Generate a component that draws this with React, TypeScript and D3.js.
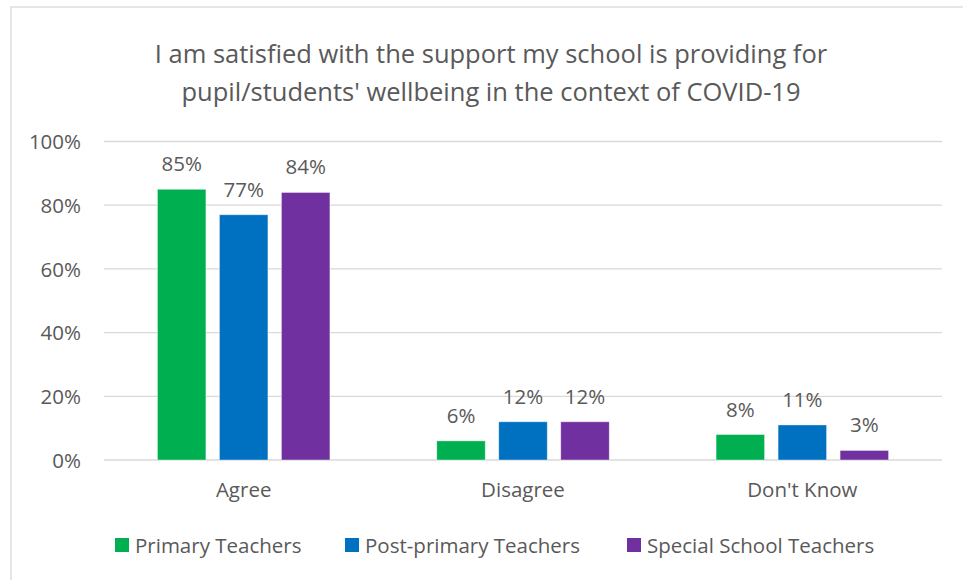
import React from "react";
import * as d3 from "d3";

const categories = ["Agree", "Disagree", "Don't Know"];
const seriesNames = ["Primary Teachers", "Post-primary Teachers", "Special School Teachers"];
const seriesColors = ["#00B050", "#0070C0", "#7030A0"];
const primaryValues = [85, 6, 8];
const postPrimaryValues = [77, 12, 11];
const specialValues = [84, 12, 3];
const yTicks = [0, 20, 40, 60, 80, 100];
const titleLines = [
  "I am satisfied with the support my school is providing for",
  "pupil/students' wellbeing in the context of COVID-19",
];

const W = 963;
const H = 580;
const FONT = "'Open Sans', sans-serif";
const TEXT = "#595959";
const FS = 20.5;

export default function App() {
  const allSeries = [primaryValues, postPrimaryValues, specialValues];
  const plot = { left: 104, right: 942, top: 141.5, bottom: 460 };
  const x0 = d3.scaleBand().domain(categories).range([plot.left, plot.right]).paddingInner(0).paddingOuter(0);
  const band = x0.bandwidth();
  const barW = 48.5;
  const gap = 13.5;
  const groupW = barW * 3 + gap * 2;
  const x1 = d3
    .scaleBand()
    .domain(seriesNames)
    .range([(band - groupW) / 2, (band + groupW) / 2])
    .paddingInner(gap / (barW + gap))
    .paddingOuter(0);
  const y = d3.scaleLinear().domain([0, 100]).range([plot.bottom, plot.top]);

  const legendX = [115, 345, 627];

  return (
    <svg width={W} height={H} style={{ position: "absolute", left: 0, top: 0 }} fontFamily={FONT}>
      <rect x={0} y={0} width={W} height={H} fill="#fff" />
      <rect x={11} y={7} width={W + 10} height={H + 10} fill="none" stroke="#d9d9d9" strokeWidth={1.3} />
      {titleLines.map((t, i) => (
        <text key={i} x={491} y={62.5 + i * 38.5} textAnchor="middle" fontSize={25.5} fill={TEXT}>
          {t}
        </text>
      ))}
      {yTicks.map((t) => (
        <g key={t}>
          <line x1={plot.left} x2={plot.right} y1={y(t)} y2={y(t)} stroke="#d9d9d9" strokeWidth={1.3} />
          <text x={81} y={y(t) + 7.8} textAnchor="end" fontSize={FS} fill={TEXT}>
            {t + "%"}
          </text>
        </g>
      ))}
      {categories.map((c, ci) => (
        <g key={c} transform={`translate(${x0(c)},0)`}>
          {seriesNames.map((s, si) => {
            const v = allSeries[si][ci];
            const bx = x1(s)!;
            return (
              <g key={s}>
                <rect
                  x={bx}
                  y={y(v)}
                  width={x1.bandwidth()}
                  height={plot.bottom - y(v)}
                  fill={seriesColors[si]}
                  stroke="#ffffff"
                  strokeOpacity={0.5}
                  strokeWidth={0.8}
                />
                <text x={bx + x1.bandwidth() / 2} y={y(v) - 18} textAnchor="middle" fontSize={FS} fill={TEXT}>
                  {v + "%"}
                </text>
              </g>
            );
          })}
          <text x={band / 2} y={497} textAnchor="middle" fontSize={FS} fill={TEXT}>
            {c}
          </text>
        </g>
      ))}
      {seriesNames.map((s, i) => (
        <g key={s}>
          <rect x={legendX[i]} y={538} width={14} height={14} fill={seriesColors[i]} />
          <text x={legendX[i] + 20} y={553} fontSize={FS} fill={TEXT}>
            {s}
          </text>
        </g>
      ))}
    </svg>
  );
}
